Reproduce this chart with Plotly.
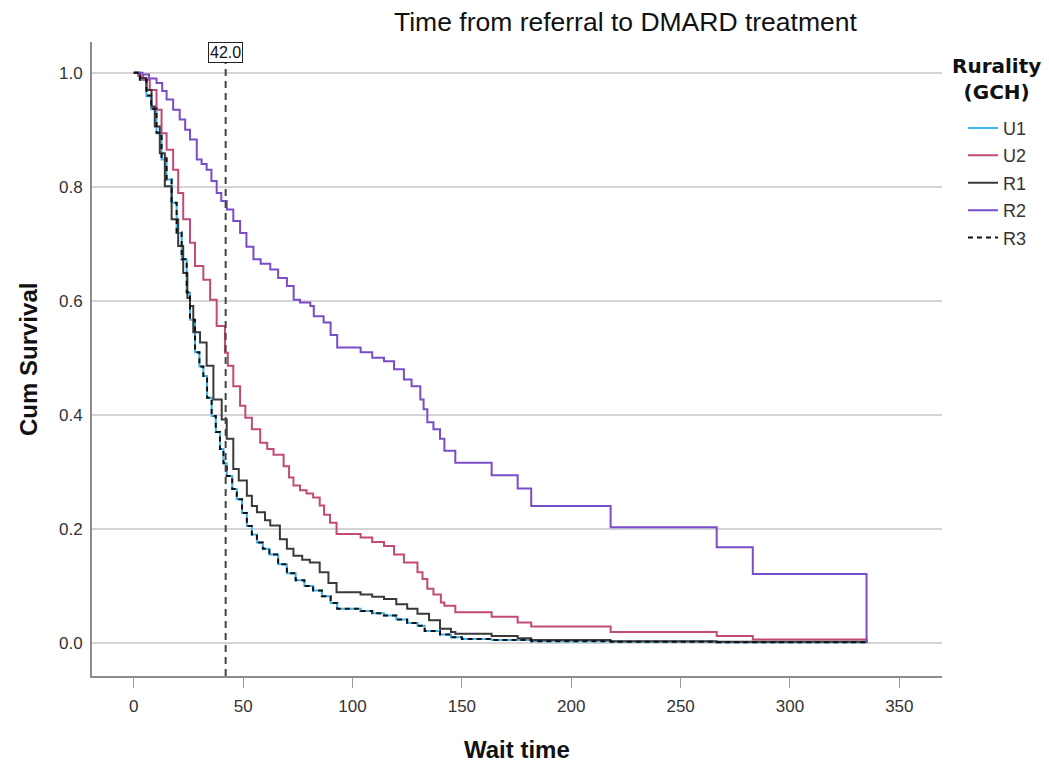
import plotly.graph_objects as go

# ---------------- data ----------------
GROUPS = ["U1", "U2", "R1", "R2", "R3"]

U1_T = [0, 2.8, 5.8, 8, 10.4, 12.7, 15, 17.3, 19.6, 21.9, 24.2, 25.7, 28, 30, 31.8, 33.5, 35.6,
        37.5, 39.4, 41, 42.5, 45, 47.1, 49.5, 51.7, 54, 56.3, 59, 62, 66, 70, 74, 78, 82, 86,
        90, 93, 103.7, 109, 114.4, 120, 125, 129.7, 133, 140, 145, 150, 163.6, 181.7, 218,
        266.5, 335]
U1_S = [1.0, 0.988, 0.959, 0.936, 0.894, 0.848, 0.813, 0.772, 0.719, 0.673, 0.614, 0.567, 0.51,
        0.485, 0.468, 0.43, 0.398, 0.37, 0.34, 0.315, 0.293, 0.27, 0.252, 0.228, 0.205, 0.19,
        0.176, 0.165, 0.155, 0.138, 0.122, 0.11, 0.1, 0.092, 0.082, 0.07, 0.06, 0.056, 0.052,
        0.048, 0.041, 0.035, 0.03, 0.021, 0.015, 0.01, 0.007, 0.005, 0.003, 0.002, 0.001, 0.0]

U2_T = [0, 2, 4.3, 7.3, 10.4, 12.7, 15, 18, 20.3, 22.6, 25.7, 28, 31.8, 34.9, 37.9, 41.7, 43,
        45.5, 48.6, 51, 54, 57.8, 61, 63.9, 68.5, 71, 73, 76, 79, 82, 85, 87, 89.7, 92.7, 103.7,
        109, 114.4, 119, 123.5, 129.7, 132, 134.2, 137, 140.4, 142, 147, 163.6, 175.5, 181.7,
        218, 266.5, 283, 335]
U2_S = [1.0, 0.995, 0.988, 0.97, 0.935, 0.894, 0.865, 0.83, 0.789, 0.743, 0.702, 0.661, 0.637,
        0.602, 0.556, 0.509, 0.486, 0.45, 0.416, 0.395, 0.375, 0.351, 0.34, 0.33, 0.31, 0.29,
        0.276, 0.268, 0.262, 0.255, 0.241, 0.225, 0.211, 0.191, 0.185, 0.177, 0.17, 0.155,
        0.141, 0.124, 0.112, 0.095, 0.085, 0.071, 0.065, 0.054, 0.046, 0.036, 0.029, 0.019,
        0.012, 0.006, 0.0]

R1_T = [0, 2.8, 5.8, 8.1, 9.6, 11.9, 14.2, 17.3, 20.3, 22.6, 24.5, 25.7, 27.2, 30.3, 33.3,
        36.4, 40.2, 42.5, 45.5, 48, 51.7, 54, 56.3, 60, 62.4, 66.8, 70, 73, 77, 80.5, 85, 89,
        92.7, 103.7, 109, 114.4, 120, 125, 129.7, 135, 140, 145, 147, 163.6, 175.5, 181.7, 218,
        266.5, 335]
R1_S = [1.0, 0.991, 0.97, 0.941, 0.906, 0.859, 0.801, 0.743, 0.696, 0.649, 0.605, 0.591, 0.545,
        0.527, 0.486, 0.427, 0.392, 0.358, 0.305, 0.285, 0.258, 0.24, 0.229, 0.215, 0.206, 0.182,
        0.165, 0.153, 0.146, 0.141, 0.124, 0.105, 0.089, 0.085, 0.081, 0.077, 0.068, 0.06, 0.051,
        0.04, 0.025, 0.019, 0.016, 0.012, 0.008, 0.005, 0.003, 0.002, 0.0]

R2_T = [0, 4, 7, 10.4, 13, 15, 18, 21, 23.5, 25.7, 28.8, 31, 33.3, 35.5, 37.9, 40, 42.5, 45.5,
        48.6, 51.5, 54.7, 58, 62.4, 66, 70, 73.1, 76, 80.7, 82.3, 86.8, 90, 93, 103.7, 109,
        114.4, 119, 123.5, 127, 131, 132.5, 134.2, 137, 140, 142, 147, 163.6, 175.5, 181.7,
        218, 266.5, 283, 335]
R2_S = [1.0, 0.997, 0.99, 0.982, 0.968, 0.953, 0.935, 0.918, 0.9, 0.883, 0.848, 0.84, 0.83, 0.81,
        0.789, 0.775, 0.76, 0.74, 0.719, 0.695, 0.673, 0.665, 0.655, 0.64, 0.626, 0.602, 0.597,
        0.591, 0.573, 0.562, 0.54, 0.518, 0.51, 0.5, 0.494, 0.48, 0.462, 0.45, 0.427, 0.41,
        0.387, 0.375, 0.358, 0.337, 0.316, 0.294, 0.271, 0.24, 0.203, 0.168, 0.121, 0.0]

R3_T = [0, 2.8, 5.8, 8, 10.4, 12.7, 15, 17.3, 19.6, 21.9, 24.2, 25.7, 28, 30, 31.8, 33.5, 35.6,
        37.5, 39.4, 41, 42.5, 45, 47.1, 49.5, 51.7, 54, 56.3, 59, 62, 66, 70, 74, 78, 82, 86,
        90, 93, 103.7, 109, 114.4, 120, 125, 129.7, 133, 140, 145, 150, 163.6, 181.7, 218,
        266.5, 335]
R3_S = [1.0, 0.988, 0.96, 0.937, 0.895, 0.85, 0.813, 0.772, 0.72, 0.673, 0.615, 0.567, 0.51,
        0.485, 0.468, 0.43, 0.398, 0.37, 0.34, 0.315, 0.293, 0.27, 0.252, 0.228, 0.205, 0.19,
        0.176, 0.165, 0.155, 0.138, 0.122, 0.11, 0.1, 0.092, 0.082, 0.07, 0.06, 0.056, 0.052,
        0.048, 0.041, 0.035, 0.03, 0.021, 0.015, 0.01, 0.007, 0.005, 0.003, 0.002, 0.001, 0.0]

REF_TIME = 42.0
X_TICKS = [0, 50, 100, 150, 200, 250, 300, 350]
Y_TICKS = [0.0, 0.2, 0.4, 0.6, 0.8, 1.0]
Y_TICK_TEXT = ["0.0", "0.2", "0.4", "0.6", "0.8", "1.0"]

TITLE = "Time from referral to DMARD treatment"
X_TITLE = "Wait time"
Y_TITLE = "Cum Survival"
LEGEND_TITLE = "Rurality<br>(GCH)"

# ---------------- styling ----------------
FONT = "Liberation Sans, Arial, sans-serif"
STYLES = {
    "U1": dict(color="#3DB5F2", width=2, dash="solid"),
    "U2": dict(color="#C24A78", width=2, dash="solid"),
    "R1": dict(color="#3A3A3A", width=2, dash="solid"),
    "R2": dict(color="#7B4CC8", width=2, dash="solid"),
    "R3": dict(color="#111111", width=2, dash="5px,4px"),
}
SERIES = {"U1": (U1_T, U1_S), "U2": (U2_T, U2_S), "R1": (R1_T, R1_S),
          "R2": (R2_T, R2_S), "R3": (R3_T, R3_S)}

fig = go.Figure()
for g in GROUPS:
    t, s = SERIES[g]
    fig.add_trace(go.Scatter(
        x=t, y=s, mode="lines", name=g, legendgroup=g,
        line=dict(shape="hv", **STYLES[g]),
    ))

fig.add_shape(type="line", xref="x", yref="paper", x0=REF_TIME, x1=REF_TIME, y0=0, y1=1,
              line=dict(color="#444444", width=2, dash="7px,5px"), layer="above")
fig.add_annotation(x=REF_TIME, xref="x", y=1.0, yref="paper", yanchor="top", xanchor="center",
                   text=f"{REF_TIME:.1f}", showarrow=False,
                   font=dict(family=FONT, size=16, color="#111111"),
                   bgcolor="white", bordercolor="#222222", borderwidth=1, borderpad=1)

fig.add_annotation(text=TITLE, xref="paper", yref="paper", x=0.628, y=1.0315,
                   xanchor="center", yanchor="middle", showarrow=False,
                   font=dict(family=FONT, size=26.5, color="#111111"))
fig.add_annotation(text=f"<b>{Y_TITLE}</b>", xref="paper", yref="paper", x=-0.0753, y=0.5,
                   xanchor="center", yanchor="middle", textangle=-90, showarrow=False,
                   font=dict(family=FONT, size=24, color="#111111"))
fig.add_annotation(text=f"<b>{X_TITLE}</b>", xref="paper", yref="paper", x=0.5, y=-0.1167,
                   xanchor="center", yanchor="middle", showarrow=False,
                   font=dict(family=FONT, size=24, color="#111111"))
# legend title, centred over the legend entries
fig.add_annotation(text=f"<b>{LEGEND_TITLE}</b>", xref="paper", yref="paper", x=1.0647, y=0.9416,
                   xanchor="center", yanchor="middle", showarrow=False, align="center",
                   font=dict(family="DejaVu Sans, Liberation Sans, sans-serif", size=20,
                             color="#111111"))

# the page adds an 8px body margin, so the figure is drawn 8px smaller
fig.update_layout(
    width=1041, height=754,
    margin=dict(l=84, r=107, t=34, b=86),
    plot_bgcolor="white", paper_bgcolor="white",
    font=dict(family=FONT, size=17, color="#333333"),
    showlegend=True,
    legend=dict(
        x=1.0247, xanchor="left", y=0.8931, yanchor="top",
        font=dict(family=FONT, size=18, color="#333333"),
        tracegroupgap=1, bgcolor="rgba(0,0,0,0)",
    ),
    xaxis=dict(range=[-19.1, 369.5], tickvals=X_TICKS, showgrid=False, zeroline=False,
               showline=True, linecolor="#8C8C8C", linewidth=2, ticks="outside",
               ticklen=10, tickwidth=1, tickcolor="#9A9A9A", ticklabelstandoff=4,
               tickfont=dict(size=17, color="#333333"), automargin=False),
    yaxis=dict(range=[-0.058, 1.054], tickvals=Y_TICKS, ticktext=Y_TICK_TEXT,
               showgrid=True, gridcolor="#D4D4D4", gridwidth=2, zeroline=False,
               showline=True, linecolor="#8C8C8C", linewidth=2, ticks="",
               ticklabelstandoff=4, tickfont=dict(size=17, color="#333333"), automargin=False),
)

fig.write_html("out.html")
